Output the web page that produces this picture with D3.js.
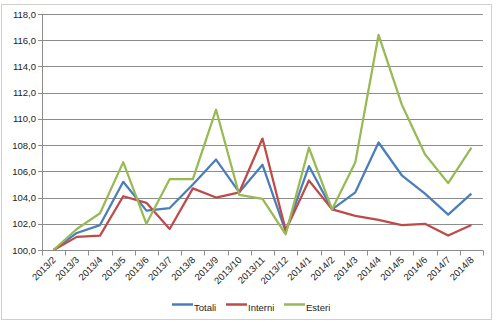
<!DOCTYPE html>
<html>
<head>
<meta charset="utf-8">
<script src="https://cdn.jsdelivr.net/npm/d3@7"></script>
<style>
  html, body { margin: 0; padding: 0; background: #fff; }
  svg { display: block; font-family: "Liberation Sans", Arial, sans-serif; }
</style>
</head>
<body>
<svg id="chart" width="498" height="325"></svg>
<script>
// Monthly index values (base 2013/2 = 100)
const months = ["2013/2","2013/3","2013/4","2013/5","2013/6","2013/7","2013/8","2013/9","2013/10","2013/11","2013/12",
                "2014/1","2014/2","2014/3","2014/4","2014/5","2014/6","2014/7","2014/8"];
const totali  = [100.0,101.3,101.9,105.2,103.0,103.2,105.0,106.9,104.4,106.5,101.4,106.4,103.1,104.4,108.2,105.7,104.3,102.7,104.3];
const interni = [100.0,101.0,101.1,104.1,103.6,101.6,104.7,104.0,104.4,108.5,101.5,105.3,103.1,102.6,102.3,101.9,102.0,101.1,101.9];
const esteri  = [100.0,101.6,102.8,106.7,102.0,105.4,105.4,110.7,104.2,103.9,101.2,107.8,103.1,106.7,116.4,111.1,107.3,105.1,107.8];
const yTicks  = [100,102,104,106,108,110,112,114,116,118];

const seriesNames  = ["Totali","Interni","Esteri"];
const seriesValues = [totali, interni, esteri];
const seriesColors = ["#4A7EBB","#BE4B48","#98B954"];

const svg = d3.select("#chart");
const margin = {left: 42, right: 15, top: 14, bottom: 75};
const W = 498, H = 325;

// outer frame
svg.append("rect").attr("x", 1.5).attr("y", 4.5).attr("width", 490).attr("height", 315)
   .attr("fill", "none").attr("stroke", "#d0d0d0").attr("stroke-width", 1);

const x = d3.scaleBand().domain(months).range([margin.left, W - margin.right]);
const y = d3.scaleLinear().domain([100, 118]).range([H - margin.bottom, margin.top]);

// horizontal gridlines
svg.append("g").selectAll("line").data(yTicks).join("line")
  .attr("x1", margin.left - 4).attr("x2", W - margin.right)
  .attr("y1", d => Math.round(y(d)) + 0.5).attr("y2", d => Math.round(y(d)) + 0.5)
  .attr("stroke", "#8c8c8c").attr("stroke-width", 1);

// y labels
svg.append("g").selectAll("text").data(yTicks).join("text")
  .attr("x", margin.left - 6).attr("y", d => y(d) + 3.5)
  .attr("text-anchor", "end").attr("font-size", 9.5).attr("fill", "#222")
  .text(d => d3.format(".1f")(d).replace(".", ","));

// y axis line
svg.append("line")
  .attr("x1", margin.left + 0.5).attr("x2", margin.left + 0.5)
  .attr("y1", y(118)).attr("y2", y(100))
  .attr("stroke", "#8c8c8c");

// x axis with tick marks at band boundaries
const xAxisY = Math.round(y(100)) + 0.5;
const bounds = months.map(m => x(m)).concat([x(months[months.length - 1]) + x.bandwidth()]);
svg.append("g").selectAll("line").data(bounds).join("line")
  .attr("x1", d => Math.round(d) + 0.5).attr("x2", d => Math.round(d) + 0.5)
  .attr("y1", xAxisY).attr("y2", xAxisY + 5)
  .attr("stroke", "#8c8c8c");

svg.append("g").selectAll("text").data(months).join("text")
  .attr("transform", d => `translate(${x(d) + x.bandwidth() / 2 + 3},${xAxisY + 10}) rotate(-45)`)
  .attr("text-anchor", "end").attr("font-size", 9.5).attr("fill", "#222")
  .text(d => d);

// series lines
const line = d3.line()
  .x((d, i) => x(months[i]) + x.bandwidth() / 2)
  .y(d => y(d));

seriesValues.forEach((vals, k) => {
  svg.append("path").datum(vals)
    .attr("d", line)
    .attr("fill", "none")
    .attr("stroke", seriesColors[k])
    .attr("stroke-width", 2.25)
    .attr("stroke-linejoin", "round");
});

// legend
const legendX = [172, 226, 284];
const legendY = 304.5;
const lg = svg.append("g");
seriesNames.forEach((name, k) => {
  lg.append("line")
    .attr("x1", legendX[k]).attr("x2", legendX[k] + 21)
    .attr("y1", legendY).attr("y2", legendY)
    .attr("stroke", seriesColors[k]).attr("stroke-width", 2.5);
  lg.append("text")
    .attr("x", legendX[k] + 22).attr("y", legendY + 6)
    .attr("font-size", 9.5).attr("fill", "#222")
    .text(name);
});
</script>
</body>
</html>
